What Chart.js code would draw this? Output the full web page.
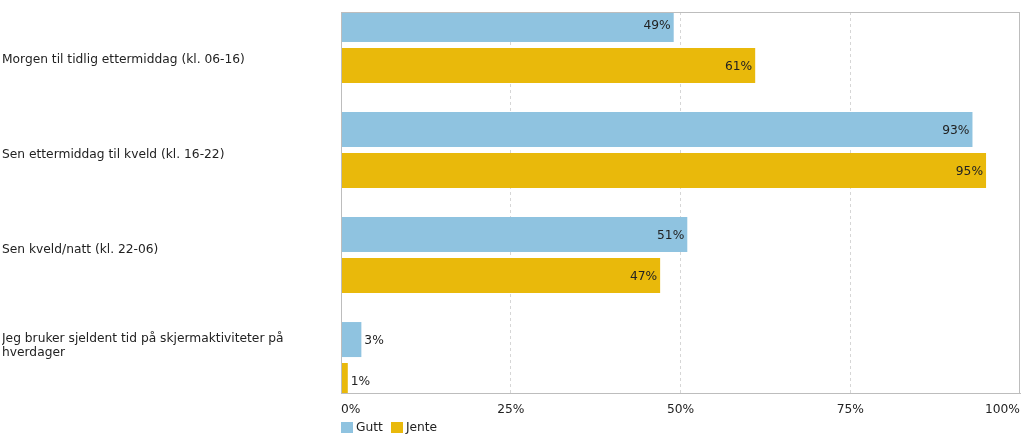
<!DOCTYPE html>
<html>
<head>
<meta charset="utf-8">
<script src="https://cdn.jsdelivr.net/npm/chart.js@4"></script>
<style>
  body { margin: 0; background: #fff; font-family: "DejaVu Sans", Verdana, sans-serif; }
  #wrap { position: relative; width: 1023px; height: 438px; }
  #legend { position: absolute; left: 341px; top: 420px; font-size: 12.25px; color: #222; display: flex; align-items: center; }
  #legend span.box { display: inline-block; width: 12px; height: 11px; margin-right: 3px; }
  #legend span.item { display: inline-flex; align-items: center; margin-right: 8px; }
</style>
</head>
<body>
<div id="wrap">
  <canvas id="chartSkjerm" width="1023" height="438"></canvas>
  <div id="legend"></div>
</div>
<script>
// kategorier og verdier (prosent)
const kategorier = [
  'Morgen til tidlig ettermiddag (kl. 06-16)',
  'Sen ettermiddag til kveld (kl. 16-22)',
  'Sen kveld/natt (kl. 22-06)',
  ['Jeg bruker sjeldent tid på skjermaktiviteter på', 'hverdager']
];
const gutt = [49, 93, 51, 3];
const jente = [61, 95, 47, 1];
const xTicks = [0, 25, 50, 75, 100];

const farger = { gutt: '#8fc3e0', jente: '#e9b90b' };
const fontFam = '"DejaVu Sans", Verdana, sans-serif';

function tilPunkter(verdier) {
  return verdier.map((v, i) => ({ x: v, y: i }));
}

// etiketter på søylene
const verdiEtiketter = {
  id: 'verdiEtiketter',
  afterDatasetsDraw(chart) {
    const ctx = chart.ctx;
    ctx.save();
    ctx.font = '12.25px ' + fontFam;
    ctx.fillStyle = '#222';
    ctx.textBaseline = 'middle';
    chart.data.datasets.forEach((ds, di) => {
      chart.getDatasetMeta(di).data.forEach((bar, i) => {
        const v = ds.data[i].x;
        const txt = v + '%';
        if (v >= 10) {
          ctx.textAlign = 'right';
          ctx.fillText(txt, bar.x - 3, bar.y + 1);
        } else {
          ctx.textAlign = 'left';
          ctx.fillText(txt, bar.x + 3, bar.y + 1);
        }
      });
    });
    ctx.restore();
  }
};

// ramme rundt plottet
const ramme = {
  id: 'ramme',
  afterDatasetsDraw(chart) {
    const a = chart.chartArea;
    const ctx = chart.ctx;
    ctx.save();
    ctx.strokeStyle = '#bdbdbd';
    ctx.lineWidth = 1;
    ctx.strokeRect(Math.round(a.left) + 0.5, Math.round(a.top) + 0.5,
      Math.round(a.right - a.left) - 1, Math.round(a.bottom - a.top));
    ctx.restore();
  }
};

const data = {
  labels: kategorier,
  datasets: [
    { label: 'Gutt', data: tilPunkter(gutt), backgroundColor: farger.gutt, yAxisID: 'yb',
      categoryPercentage: 0.78, barPercentage: 0.855 },
    { label: 'Jente', data: tilPunkter(jente), backgroundColor: farger.jente, yAxisID: 'yb',
      categoryPercentage: 0.78, barPercentage: 0.855 }
  ]
};

const config = {
  type: 'bar',
  data: data,
  options: {
    indexAxis: 'y',
    responsive: false,
    animation: false,
    layout: { padding: { top: 12, left: 2, right: 3, bottom: 0 } },
    plugins: {
      legend: { display: false },
      tooltip: { enabled: false }
    },
    scales: {
      x: {
        min: 0,
        max: 100,
        afterBuildTicks: s => { s.ticks = xTicks.map(v => ({ value: v })); },
        ticks: {
          callback: v => v + '%',
          align: 'inner',
          padding: 9,
          color: '#222',
          font: { family: fontFam, size: 12.25 }
        },
        grid: {
          drawTicks: false,
          color: ctx => (ctx.tick && (ctx.tick.value === 0 || ctx.tick.value === 100)) ? 'rgba(0,0,0,0)' : '#d6d6d6'
        },
        border: { color: '#bdbdbd', dash: [3, 3] },
        afterFit: s => { s.height = 45; s.paddingLeft = 0; s.paddingRight = 0; }
      },
      y: {
        type: 'category',
        position: 'left',
        offset: true,
        ticks: {
          crossAlign: 'far',
          color: '#222',
          font: { family: fontFam, size: 12.25, lineHeight: 1.15 }
        },
        grid: { display: false },
        border: { color: '#bdbdbd' },
        afterFit: s => { s.width = 339; s.paddingTop = 0; s.paddingBottom = 0; }
      },
      yb: {
        type: 'linear',
        display: false,
        reverse: true,
        offset: false,
        min: -0.314,
        max: 3.314,
        afterBuildTicks: s => { s.ticks = gutt.map((v, i) => ({ value: i })); }
      }
    }
  },
  plugins: [verdiEtiketter, ramme]
};

const chartSkjerm = new Chart(document.getElementById('chartSkjerm'), config);

// forklaring
const legend = document.getElementById('legend');
data.datasets.forEach(ds => {
  const item = document.createElement('span');
  item.className = 'item';
  const box = document.createElement('span');
  box.className = 'box';
  box.style.background = ds.backgroundColor;
  item.appendChild(box);
  item.appendChild(document.createTextNode(ds.label));
  legend.appendChild(item);
});
</script>
</body>
</html>
